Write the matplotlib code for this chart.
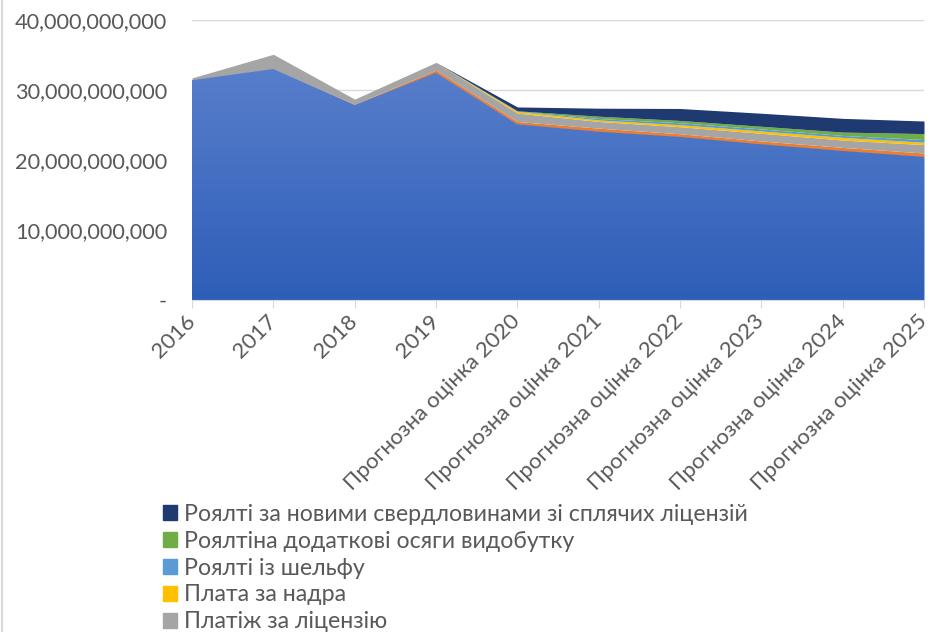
import numpy as np
import matplotlib
matplotlib.use("Agg")
from matplotlib import pyplot as plt
from matplotlib.patches import Patch
from matplotlib.lines import Line2D
from matplotlib.colors import LinearSegmentedColormap
from matplotlib.ticker import FuncFormatter
from matplotlib.transforms import ScaledTranslation

plt.rcParams['font.family'] = ['Lato', 'DejaVu Sans']

years = ['2016', '2017', '2018', '2019',
         'Прогнозна оцінка 2020', 'Прогнозна оцінка 2021', 'Прогнозна оцінка 2022',
         'Прогнозна оцінка 2023', 'Прогнозна оцінка 2024', 'Прогнозна оцінка 2025']

# billions of UAH, bottom layer first
layer_base = [31.4, 33.0, 27.85, 32.45, 25.1, 24.05, 23.3, 22.25, 21.3, 20.45]
layer_second = [0.0, 0.0, 0.1, 0.4, 0.4, 0.5, 0.45, 0.47, 0.5, 0.55]
licence_fee = [0.33, 2.1, 0.75, 1.1, 1.2, 0.96, 1.0, 1.1, 1.05, 1.2]
subsoil_fee = [0.0, 0.0, 0.0, 0.0, 0.23, 0.21, 0.29, 0.33, 0.38, 0.33]
shelf_royalty = [0.0, 0.0, 0.0, 0.0, 0.05, 0.21, 0.28, 0.29, 0.28, 0.39]
extra_output_royalty = [0.0, 0.0, 0.0, 0.0, 0.05, 0.33, 0.33, 0.38, 0.48, 0.85]
dormant_wells_royalty = [0.0, 0.0, 0.0, 0.0, 0.55, 1.14, 1.71, 1.86, 1.96, 1.8]

legend_names = ['Роялті за новими свердловинами зі сплячих ліцензій',
                'Роялтіна додаткові осяги видобутку',
                'Роялті із шельфу',
                'Плата за надра',
                'Платіж за ліцензію']

layers = [layer_base, layer_second, licence_fee, subsoil_fee,
          shelf_royalty, extra_output_royalty, dormant_wells_royalty]
colors = ['#3F6FC6', '#ED7D31', '#A5A5A5', '#FFC000', '#5B9BD5', '#70AD47', '#1E3A70']

fig = plt.figure(figsize=(9.3, 6.32), dpi=100)
ax = fig.add_axes([192/930, 1 - 300/632, 732/930, 280/632])

x = np.arange(len(years))
bottom = np.zeros(len(years))
polys = []
for vals, c in zip(layers, colors):
    v = np.array(vals) * 1e9
    p = ax.fill_between(x, bottom, bottom + v, color=c, lw=0, zorder=2)
    polys.append(p)
    bottom = bottom + v

# gradient on the base layer
grad = LinearSegmentedColormap.from_list('g', ['#2E5EB8', '#5A80CC'])
img = ax.imshow(np.linspace(0, 1, 256).reshape(-1, 1), cmap=grad, origin='lower',
                aspect='auto', extent=[0, len(years) - 1, 0, 35e9], zorder=2.1)
img.set_clip_path(polys[0].get_paths()[0], transform=ax.transData)

ax.set_xlim(0, len(years) - 1)
ax.set_ylim(0, 40e9)
ax.set_yticks(np.arange(0, 41e9, 10e9))
ax.yaxis.set_major_formatter(FuncFormatter(lambda v, p: '-' if v == 0 else f'{v:,.0f}'))
ax.grid(axis='y', color='#D9D9D9', lw=1, zorder=0)
ax.set_axisbelow(True)

ax.set_xticks(x)
ax.set_xticklabels(years, rotation=45, ha='right', rotation_mode='anchor')
ax.tick_params(axis='x', length=6, color='#D9D9D9', labelsize=16, labelcolor='#595959', pad=2)
ax.tick_params(axis='y', length=0, labelsize=15.7, labelcolor='#595959', pad=18)
shift = ScaledTranslation(-7/100, 0, fig.dpi_scale_trans)
for lab in ax.get_xticklabels():
    lab.set_transform(lab.get_transform() + shift)
for s in ['top', 'right', 'left']:
    ax.spines[s].set_visible(False)
ax.spines['bottom'].set_color('#D9D9D9')
ax.spines['bottom'].set_zorder(3)

handles = [Patch(color=c) for c in colors[:1:-1]]
fig.legend(handles, legend_names, loc='upper left', bbox_to_anchor=(163/930, 1 - 504/632),
           frameon=False, fontsize=16.7, labelcolor='#595959', handlelength=0.62,
           handleheight=0.62, handletextpad=0.3, labelspacing=0.25, borderpad=0,
           borderaxespad=0)

fig.add_artist(Line2D([2/930, 2/930], [0, 1], color='#D9D9D9', lw=1.5))

fig.savefig('out.png', dpi=100)
